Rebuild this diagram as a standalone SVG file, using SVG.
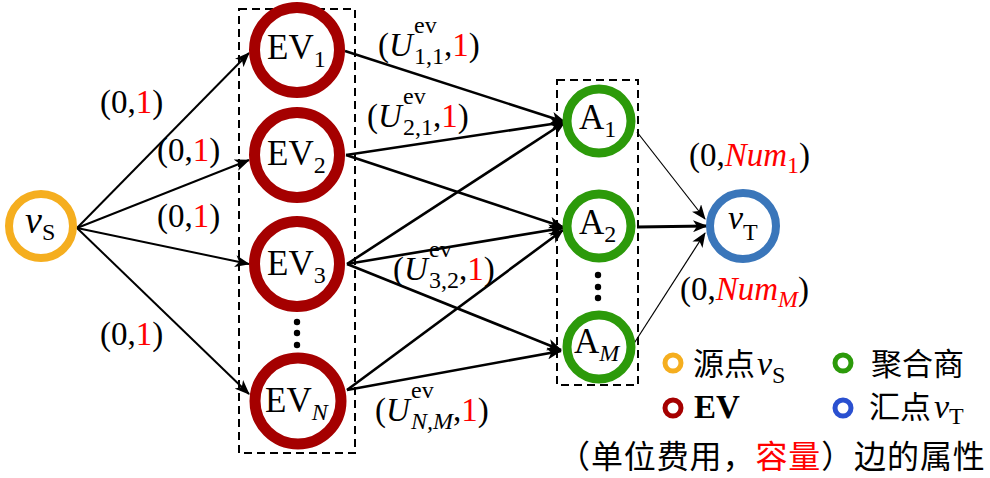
<svg xmlns="http://www.w3.org/2000/svg" width="990" height="478" viewBox="0 0 990 478">
<style>
text{font-family:"Liberation Serif","Times New Roman",serif;fill:#000}
.m{font-size:33px}
.n{font-size:35px}
.s{font-size:24px}
.i{font-style:italic}
.r{fill:#ff0000}
.cjk{font-family:"Noto Sans CJK SC","Noto Sans CJK JP",sans-serif;font-size:31px}
.box{fill:none;stroke:#000;stroke-width:2;stroke-dasharray:8,5}
.ev{fill:#fff;stroke:#a50000;stroke-width:11}
.ag{fill:#fff;stroke:#2c9a0a;stroke-width:9}
.e1{fill:none;stroke:#000;stroke-width:2;marker-end:url(#ah)}
.e2{fill:none;stroke:#000;stroke-width:2.6;marker-end:url(#ah)}
.e3{fill:none;stroke:#000;stroke-width:1.2;marker-end:url(#ah)}
.e4{fill:none;stroke:#000;stroke-width:3.2;marker-end:url(#ah)}
</style>
<defs>
<marker id="ah" markerUnits="userSpaceOnUse" markerWidth="15" markerHeight="12" refX="14" refY="6" orient="auto">
<path d="M0,0 L15,6 L0,12 L4,6 z" fill="#000"/>
</marker>
</defs>
<rect class="box" x="239" y="9" width="116" height="444"/>
<rect class="box" x="557" y="80" width="81" height="305"/>
<g id="connectors">
<line class="e1" x1="77" y1="228" x2="249" y2="53"/>
<line class="e1" x1="77" y1="228" x2="249" y2="160"/>
<line class="e1" x1="77" y1="228" x2="249" y2="264"/>
<line class="e1" x1="77" y1="228" x2="249" y2="394"/>
<line class="e2" x1="345" y1="51" x2="565" y2="122"/>
<line class="e2" x1="346" y1="155" x2="565" y2="122"/>
<line class="e2" x1="346" y1="155" x2="563" y2="227"/>
<line class="e2" x1="347" y1="264" x2="565" y2="122"/>
<line class="e2" x1="347" y1="264" x2="563" y2="228"/>
<line class="e2" x1="347" y1="264" x2="561" y2="350"/>
<line class="e2" x1="347" y1="390" x2="563" y2="230"/>
<line class="e2" x1="347" y1="390" x2="561" y2="351"/>
<line class="e3" x1="637" y1="132" x2="705" y2="219"/>
<line class="e4" x1="637" y1="227" x2="707" y2="226"/>
<line class="e3" x1="633" y1="345" x2="705" y2="233"/>
</g>
<g id="vS">
<circle cx="41" cy="226" r="32" fill="#fff" stroke="#f5ae1f" stroke-width="8"/>
<text x="25" y="233" class="i" font-size="38">v<tspan class="s" font-style="normal" font-size="25" dy="7">S</tspan></text>
</g>
<g id="EV1">
<circle class="ev" cx="297" cy="50" r="42.5"/>
<text x="267" y="59" class="n">EV<tspan class="s" dy="8">1</tspan></text>
</g>
<g id="EV2">
<circle class="ev" cx="297" cy="155" r="42.5"/>
<text x="267" y="165" class="n">EV<tspan class="s" dy="8">2</tspan></text>
</g>
<g id="EV3">
<circle class="ev" cx="297" cy="264" r="42.5"/>
<text x="267" y="275" class="n">EV<tspan class="s" dy="8">3</tspan></text>
</g>
<g id="EVdots">
<circle cx="297" cy="322" r="3.2"/><circle cx="297" cy="333" r="3.2"/><circle cx="297" cy="345" r="3.2"/>
</g>
<g id="EVN">
<circle class="ev" cx="298" cy="401" r="43"/>
<text x="265" y="412" class="n">EV<tspan class="s i" dy="8">N</tspan></text>
</g>
<g id="A1">
<circle class="ag" cx="599" cy="121" r="32"/>
<text x="579" y="129" class="n">A<tspan class="s" dy="8">1</tspan></text>
</g>
<g id="A2">
<circle class="ag" cx="599" cy="226" r="32"/>
<text x="579" y="234" class="n">A<tspan class="s" dy="8">2</tspan></text>
</g>
<g id="Adots">
<circle cx="598" cy="275" r="3.2"/><circle cx="598" cy="287" r="3.2"/><circle cx="598" cy="298" r="3.2"/>
</g>
<g id="AM">
<circle class="ag" cx="599" cy="347" r="32"/>
<text x="574" y="353" class="n">A<tspan class="s i" dy="8">M</tspan></text>
</g>
<g id="vT">
<circle cx="743" cy="226" r="33" fill="#fff" stroke="#3a76ba" stroke-width="8"/>
<text x="728" y="229" class="i" font-size="34">v<tspan class="s" font-style="normal" dy="11">T</tspan></text>
</g>
<g id="labels">
<text x="100" y="113" class="m">(0,<tspan class="r">1</tspan>)</text>
<text x="157" y="161" class="m">(0,<tspan class="r">1</tspan>)</text>
<text x="157" y="227" class="m">(0,<tspan class="r">1</tspan>)</text>
<text x="100" y="345" class="m">(0,<tspan class="r">1</tspan>)</text>

<text x="378" y="56" class="m">(<tspan class="i">U</tspan></text>
<text x="414" y="33" class="s">ev</text><text x="414" y="64" class="s">1,1</text>
<text x="444" y="56" class="m">,<tspan class="r">1</tspan>)</text>

<text x="367" y="127" class="m">(<tspan class="i">U</tspan></text>
<text x="403" y="104" class="s">ev</text><text x="403" y="135" class="s">2,1</text>
<text x="433" y="127" class="m">,<tspan class="r">1</tspan>)</text>

<text x="393" y="280" class="m">(<tspan class="i">U</tspan></text>
<text x="429" y="257" class="s">ev</text><text x="429" y="288" class="s">3,2</text>
<text x="459" y="280" class="m">,<tspan class="r">1</tspan>)</text>

<text x="375" y="421" class="m">(<tspan class="i">U</tspan></text>
<text x="411" y="398" class="s">ev</text><text x="411" y="429" class="s i">N,M</text>
<text x="453" y="421" class="m">,<tspan class="r">1</tspan>)</text>

<text x="689" y="166" class="m">(0,<tspan class="r i">Num</tspan><tspan class="r s" dy="7">1</tspan><tspan dy="-7">)</tspan></text>
<text x="680" y="300" class="m">(0,<tspan class="r i">Num</tspan><tspan class="r s i" dy="7">M</tspan><tspan dy="-7">)</tspan></text>
</g>
<g id="legend">
<circle cx="673" cy="363" r="8" fill="none" stroke="#f5ae1f" stroke-width="5"/>
<circle cx="673" cy="408" r="8" fill="none" stroke="#a50000" stroke-width="5"/>
<circle cx="843" cy="363" r="8" fill="none" stroke="#2c9a0a" stroke-width="5"/>
<circle cx="843" cy="408" r="8" fill="none" stroke="#2a50d0" stroke-width="5"/>
<text x="693" y="375" class="cjk">源点</text><text x="757" y="375" class="i" font-size="34">v<tspan class="s" font-style="normal" dy="8">S</tspan></text>
<text x="694" y="418" font-size="33" font-weight="bold">EV</text>
<text x="871" y="375" class="cjk">聚合商</text>
<text x="869" y="418" class="cjk">汇点</text><text x="934" y="418" class="i" font-size="34">v<tspan class="s" font-style="normal" font-size="22" dy="6">T</tspan></text>
<text x="558" y="468" class="cjk" style="font-size:32px;letter-spacing:0.9px">（单位费用，<tspan class="r">容量</tspan>）边的属性</text>
</g>
</svg>
